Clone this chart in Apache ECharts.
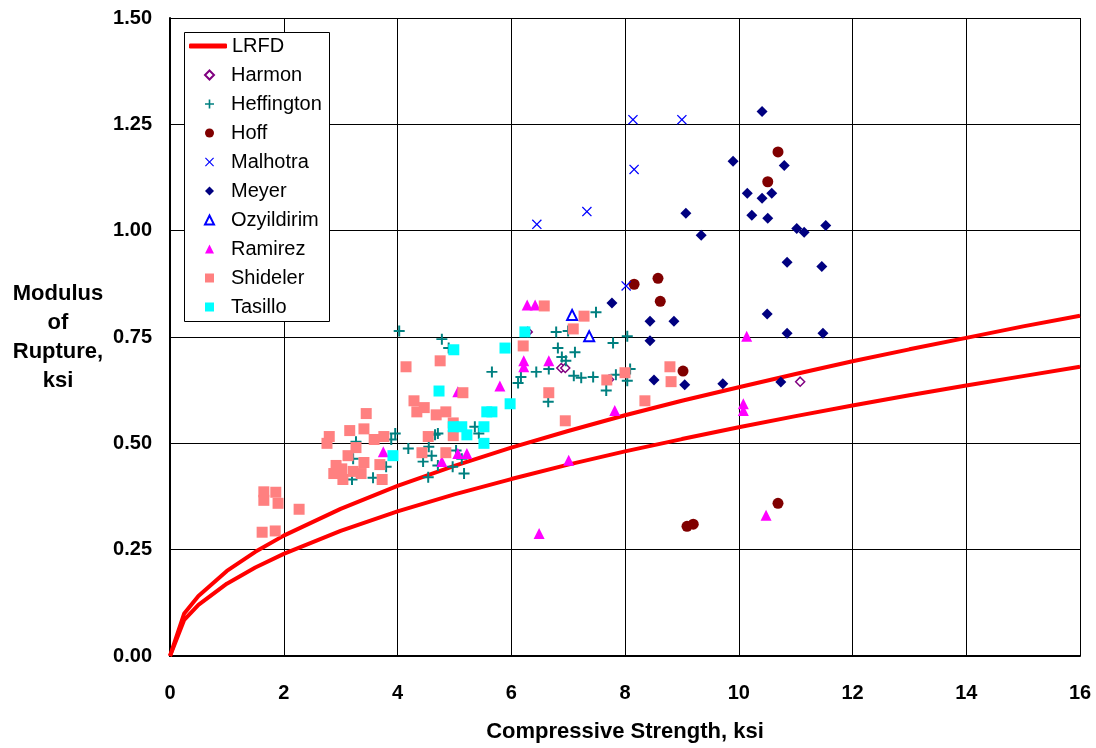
<!DOCTYPE html>
<html>
<head>
<meta charset="utf-8">
<script src="https://cdn.jsdelivr.net/npm/echarts@6/dist/echarts.min.js"></script>
<style>html,body{margin:0;padding:0;background:#fff;}#chart{width:1096px;height:748px;}</style>
</head>
<body>
<div id="chart"></div>
<script>
// ---- Data ----
var xTicks = [0, 2, 4, 6, 8, 10, 12, 14, 16];
var yTicks = ['0.00', '0.25', '0.50', '0.75', '1.00', '1.25', '1.50'];

var lrfdX = [0, 0.25, 0.5, 1, 1.5, 2, 3, 4, 5, 6, 7, 8, 9, 10, 11, 12, 13, 14, 15, 16];
var lrfdUpper = [0, 0.10, 0.141, 0.20, 0.245, 0.283, 0.346, 0.40, 0.447, 0.49, 0.529, 0.566, 0.60, 0.632, 0.663, 0.693, 0.721, 0.748, 0.775, 0.80];
var lrfdLower = [0, 0.085, 0.12, 0.17, 0.208, 0.24, 0.294, 0.34, 0.38, 0.416, 0.45, 0.481, 0.51, 0.538, 0.564, 0.589, 0.613, 0.636, 0.658, 0.68];

var harmon = [[6.29,0.762],[6.88,0.677],[6.95,0.677],[7.72,0.65],[11.08,0.645]];

var heffington = [
  [4.03,0.764],[4.78,0.745],[4.9,0.724],[5.66,0.668],[6.12,0.642],[3.96,0.523],[3.89,0.509],
  [4.19,0.488],[4.55,0.492],[4.45,0.457],[4.6,0.471],[4.54,0.42],[4.71,0.523],[4.66,0.52],
  [4.71,0.448],[4.97,0.445],[5.03,0.483],[5.13,0.464],[5.17,0.429],[5.36,0.539],[5.43,0.523],
  [3.27,0.504],[3.22,0.464],[3.2,0.415],[3.57,0.419],[3.8,0.445],
  [7.49,0.808],[6.79,0.762],[7.0,0.764],[8.04,0.752],[7.79,0.736],[6.82,0.724],[6.89,0.703],
  [6.96,0.694],[7.12,0.714],[6.66,0.675],[6.44,0.668],[6.17,0.656],[7.1,0.659],[7.23,0.654],
  [7.44,0.656],[7.84,0.661],[8.04,0.647],[8.09,0.675],[7.67,0.624],[6.65,0.598]
];

var hoff = [[8.16,0.874],[8.58,0.888],[8.62,0.834],[10.69,1.185],[10.51,1.115],[9.02,0.67],
  [9.09,0.305],[9.2,0.31],[10.69,0.359]];

var malhotra = [[8.14,1.261],[9.0,1.261],[8.16,1.144],[7.33,1.045],[6.45,1.015],[8.02,0.87]];

var meyer = [[10.41,1.28],[9.9,1.163],[10.8,1.153],[10.15,1.088],[10.58,1.088],[10.41,1.076],
  [10.23,1.036],[10.51,1.029],[11.02,1.005],[11.15,0.996],[11.53,1.012],[9.07,1.041],[9.34,0.989],
  [10.85,0.926],[11.46,0.916],[10.5,0.804],[10.85,0.759],[11.48,0.759],[7.77,0.83],[8.44,0.787],
  [8.86,0.787],[8.44,0.741],[8.51,0.649],[9.05,0.638],[9.72,0.64],[10.74,0.644]];

var ozyildirim = [[7.07,0.802],[7.37,0.752]];

var ramirez = [[6.28,0.825],[6.42,0.825],[6.22,0.694],[6.22,0.68],[6.66,0.694],[7.82,0.577],
  [7.01,0.46],[5.8,0.635],[5.06,0.621],[4.78,0.457],[5.06,0.476],[5.22,0.476],[3.75,0.48],
  [6.49,0.288],[10.14,0.752],[10.08,0.593],[10.08,0.577],[10.48,0.331]];

var shideler = [[1.65,0.386],[1.65,0.366],[1.86,0.385],[1.9,0.359],[2.27,0.345],[1.62,0.291],
  [1.85,0.294],[3.45,0.57],[3.16,0.53],[3.41,0.534],[2.8,0.516],[2.76,0.5],[3.59,0.509],
  [3.76,0.516],[3.27,0.49],[3.13,0.471],[3.41,0.455],[2.92,0.448],[3.02,0.44],[2.88,0.429],
  [3.04,0.415],[3.22,0.434],[3.36,0.429],[3.69,0.45],[3.73,0.415],
  [4.15,0.68],[4.75,0.694],[5.15,0.619],[4.29,0.6],[4.34,0.574],[4.47,0.584],[4.68,0.567],
  [4.85,0.574],[4.98,0.548],[4.98,0.518],[4.54,0.516],[4.43,0.478],[4.85,0.478],
  [6.58,0.823],[7.28,0.799],[7.09,0.769],[6.21,0.729],[6.66,0.619],[6.95,0.553],[7.68,0.649],
  [8.0,0.666],[8.79,0.68],[8.81,0.645],[8.35,0.6]];

var tasillo = [[4.99,0.72],[5.89,0.724],[4.73,0.623],[5.98,0.593],[5.57,0.574],[5.66,0.574],
  [4.98,0.539],[5.13,0.539],[5.22,0.52],[5.52,0.539],[5.52,0.5],[3.92,0.471],[6.24,0.762]];

// ---- Chart ----
var FONT = 'Liberation Sans, Arial, sans-serif';
var plusPath = 'path://M4.1,0 H5.9 V4.1 H10 V5.9 H5.9 V10 H4.1 V5.9 H0 V4.1 H4.1 Z';
var crossPath = 'path://M0,0.9 L0.9,0 L5,4.1 L9.1,0 L10,0.9 L5.9,5 L10,9.1 L9.1,10 L5,5.9 L0.9,10 L0,9.1 L4.1,5 Z';

function zip(xs, ys) { return xs.map(function (x, i) { return [x, ys[i]]; }); }

var legendText = {fontFamily: FONT, fontSize: 20, color: '#000', lineHeight: 20};

var chart = echarts.init(document.getElementById('chart'), null, {renderer: 'canvas'});
chart.setOption({
  animation: false,
  backgroundColor: '#fff',
  textStyle: {fontFamily: FONT},
  grid: {left: 170, right: 16, top: 18, bottom: 90},
  graphic: [{
    type: 'rect', left: 184, top: 32, z: 10,
    shape: {width: 145, height: 289},
    style: {fill: '#fff', stroke: '#000', lineWidth: 1}
  }],
  xAxis: {
    type: 'value', min: 0, max: 16, interval: 2,
    name: 'Compressive Strength, ksi', nameLocation: 'middle', nameGap: 65,
    nameTextStyle: {fontFamily: FONT, fontWeight: 'bold', fontSize: 22, color: '#000'},
    axisLine: {lineStyle: {color: '#000', width: 2}},
    axisTick: {show: false},
    axisLabel: {fontFamily: FONT, fontWeight: 'bold', fontSize: 20, color: '#000', margin: 27},
    splitLine: {show: true, lineStyle: {color: '#000', width: 1}}
  },
  yAxis: {
    type: 'value', min: 0, max: 1.5, interval: 0.25,
    name: 'Modulus\nof\nRupture,\nksi', nameLocation: 'middle', nameRotate: 0, nameGap: 112,
    nameTextStyle: {fontFamily: FONT, fontWeight: 'bold', fontSize: 22, color: '#000', align: 'center', lineHeight: 29},
    axisLine: {show: true, lineStyle: {color: '#000', width: 2}},
    axisTick: {show: false},
    axisLabel: {fontFamily: FONT, fontWeight: 'bold', fontSize: 20, color: '#000', margin: 18,
      formatter: function (v) { return yTicks[Math.round(v / 0.25)]; }},
    splitLine: {show: true, lineStyle: {color: '#000', width: 1}}
  },
  legend: [{
    orient: 'vertical', left: 189, top: 36, z: 20,
    padding: 0, itemWidth: 38, itemHeight: 5,
    textStyle: legendText,
    data: [{name: 'LRFD', icon: 'roundRect'}]
  }, {
    orient: 'vertical', left: 204, top: 65, z: 20,
    padding: 0, itemGap: 9, itemWidth: 9, itemHeight: 9,
    textStyle: legendText,
    formatter: '{t|{name}}',
    data: ['Harmon', 'Heffington', 'Hoff', 'Malhotra', 'Meyer', 'Ozyildirim', 'Ramirez', 'Shideler', 'Tasillo']
  }],
  series: [
    {name: 'LRFD', type: 'line', data: zip(lrfdX, lrfdUpper), showSymbol: false, symbol: 'none',
      lineStyle: {color: '#ff0000', width: 4}, itemStyle: {color: '#ff0000'}, z: 1},
    {name: 'LRFD', type: 'line', data: zip(lrfdX, lrfdLower), showSymbol: false, symbol: 'none',
      lineStyle: {color: '#ff0000', width: 4}, itemStyle: {color: '#ff0000'}, z: 1},
    {name: 'Harmon', type: 'scatter', data: harmon, symbol: 'diamond', symbolSize: 9,
      itemStyle: {color: '#fff', borderColor: '#800080', borderWidth: 1.5, opacity: 1}},
    {name: 'Heffington', type: 'scatter', data: heffington, symbol: plusPath, symbolSize: 11,
      itemStyle: {color: '#008080', opacity: 1}},
    {name: 'Hoff', type: 'scatter', data: hoff, symbol: 'circle', symbolSize: 11,
      itemStyle: {color: '#800000', opacity: 1}},
    {name: 'Malhotra', type: 'scatter', data: malhotra, symbol: crossPath, symbolSize: 10,
      itemStyle: {color: '#0000ff', opacity: 1}},
    {name: 'Meyer', type: 'scatter', data: meyer, symbol: 'diamond', symbolSize: 11,
      itemStyle: {color: '#000080', opacity: 1}},
    {name: 'Ozyildirim', type: 'scatter', data: ozyildirim, symbol: 'triangle', symbolSize: 10,
      itemStyle: {color: '#fff', borderColor: '#0000ff', borderWidth: 2, opacity: 1}},
    {name: 'Ramirez', type: 'scatter', data: ramirez, symbol: 'triangle', symbolSize: 11,
      itemStyle: {color: '#ff00ff', opacity: 1}},
    {name: 'Shideler', type: 'scatter', data: shideler, symbol: 'rect', symbolSize: 11,
      itemStyle: {color: '#ff8080', opacity: 1}},
    {name: 'Tasillo', type: 'scatter', data: tasillo, symbol: 'rect', symbolSize: 11,
      itemStyle: {color: '#00ffff', opacity: 1}}
  ]
});
// shift legend text so it starts at the same x as in the reference
chart.setOption({legend: [{}, {textStyle: {rich: {t: {fontFamily: FONT, fontSize: 20, color: '#000', lineHeight: 20, padding: [0, 0, 0, 12]}}}}]});
</script>
</body>
</html>
